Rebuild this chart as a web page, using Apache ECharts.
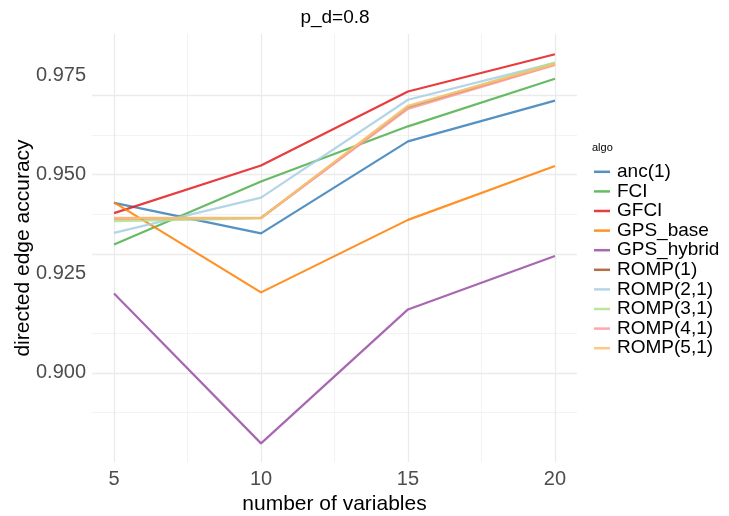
<!DOCTYPE html>
<html>
<head>
<meta charset="utf-8">
<script src="https://cdn.jsdelivr.net/npm/echarts@6/dist/echarts.min.js"></script>
<style>
  html, body { margin: 0; padding: 0; background: #ffffff; }
  #chart { width: 729px; height: 516px; }
</style>
</head>
<body>
<div id="chart"></div>
<script>
// Number of variables (x) and directed edge accuracy for each algorithm
const nVars = [5, 10, 15, 20];
const algos = ['anc(1)', 'FCI', 'GFCI', 'GPS_base', 'GPS_hybrid',
               'ROMP(1)', 'ROMP(2,1)', 'ROMP(3,1)', 'ROMP(4,1)', 'ROMP(5,1)'];
const anc1      = [0.9429, 0.9352, 0.9584, 0.9687];
const fci       = [0.9324, 0.9483, 0.9622, 0.9742];
const gfci      = [0.9403, 0.9523, 0.9710, 0.9804];
const gpsBase   = [0.9430, 0.9203, 0.9386, 0.9522];
const gpsHybrid = [0.9200, 0.8822, 0.9160, 0.9295];
const romp1     = [0.9390, 0.9391, 0.9670, 0.9778];
const romp21    = [0.9353, 0.9442, 0.9689, 0.9782];
const romp31    = [0.9383, 0.9390, 0.9672, 0.9783];
const romp41    = [0.9390, 0.9391, 0.9666, 0.9777];
const romp51    = [0.9391, 0.9391, 0.9674, 0.9779];
const xTicks = [5, 10, 15, 20];
const xMinor = [7.5, 12.5, 17.5];
const yTicks = [0.900, 0.925, 0.950, 0.975];
const yMinor = [0.8875, 0.9125, 0.9375, 0.9625];

const values = [anc1, fci, gfci, gpsBase, gpsHybrid, romp1, romp21, romp31, romp41, romp51];
const colors = ['#377EB8', '#4DAF4A', '#E41A1C', '#FF7F00', '#984EA3',
                '#A65628', '#A6CEE3', '#B2DF8A', '#FB9A99', '#FDBF6F'];

const FONT = '"Liberation Sans", Arial, sans-serif';

function isMultiple(v, step) {
  const q = v / step;
  return Math.abs(q - Math.round(q)) < 1e-6;
}

const lineSeries = algos.map((name, i) => ({
  name: name,
  type: 'line',
  data: nVars.map((x, j) => [x, values[i][j]]),
  symbol: 'none',
  lineStyle: { color: colors[i], width: 2.2, opacity: 0.85 },
  itemStyle: { color: colors[i], opacity: 0.85 },
  z: 3
}));

// Panel grid lines (major and minor), kept underneath the data lines
const gridSeries = {
  name: '__grid',
  type: 'line',
  data: [],
  silent: true,
  z: 1,
  markLine: {
    silent: true,
    z: 0,
    symbol: 'none',
    animation: false,
    label: { show: false },
    emphasis: { disabled: true },
    data: [
      ...xMinor.map(v => ({ xAxis: v, lineStyle: { color: '#F0F0F0', width: 0.8, type: 'solid' } })),
      ...yMinor.map(v => ({ yAxis: v, lineStyle: { color: '#F0F0F0', width: 0.8, type: 'solid' } })),
      ...xTicks.map(v => ({ xAxis: v, lineStyle: { color: '#EBEBEB', width: 1.3, type: 'solid' } })),
      ...yTicks.map(v => ({ yAxis: v, lineStyle: { color: '#EBEBEB', width: 1.3, type: 'solid' } }))
    ]
  }
};

const chart = echarts.init(document.getElementById('chart'), null, { renderer: 'canvas' });
chart.setOption({
  animation: false,
  backgroundColor: '#ffffff',
  textStyle: { fontFamily: FONT },
  title: [
    {
      text: 'p_d=0.8',
      left: 330, top: 3,
      textAlign: 'center',
      textStyle: { fontFamily: FONT, fontSize: 19, fontWeight: 'normal', color: '#000000' }
    },
    {
      text: 'algo',
      left: 587, top: 137,
      textStyle: { fontFamily: FONT, fontSize: 11, fontWeight: 'normal', color: '#000000' }
    }
  ],
  grid: { left: 92, right: 152, top: 34, bottom: 54, containLabel: false, outerBoundsMode: 'none' },
  xAxis: {
    type: 'value',
    min: 4.25, max: 20.75, interval: 0.25,
    name: 'number of variables',
    nameLocation: 'middle',
    nameGap: 28,
    nameTextStyle: { fontFamily: FONT, fontSize: 21, color: '#000000' },
    axisLine: { show: false },
    axisTick: { show: false },
    splitLine: { show: false },
    axisLabel: {
      interval: 0,
      margin: 7,
      fontFamily: FONT, fontSize: 20, color: '#4D4D4D',
      formatter: v => (isMultiple(v, 5) ? String(Math.round(v)) : '')
    }
  },
  yAxis: {
    type: 'value',
    min: 0.8775, max: 0.9855, interval: 0.0025,
    name: 'directed edge accuracy',
    nameLocation: 'middle',
    nameGap: 58,
    nameRotate: 90,
    nameMoveOverlap: false,
    nameTextStyle: { fontFamily: FONT, fontSize: 21, color: '#000000' },
    axisLine: { show: false },
    axisTick: { show: false },
    splitLine: { show: false },
    axisLabel: {
      interval: 0,
      margin: 6,
      fontFamily: FONT, fontSize: 20, color: '#4D4D4D',
      formatter: v => (isMultiple(v, 0.025) ? v.toFixed(3) : '')
    }
  },
  legend: {
    orient: 'vertical',
    left: 594, top: 162,
    padding: 0,
    data: algos.map((name, i) => ({
      name: name,
      icon: 'rect',
      itemStyle: { color: colors[i], opacity: 0.85 }
    })),
    itemWidth: 16, itemHeight: 2.5,
    itemGap: 0,
    selectedMode: false,
    textStyle: { fontFamily: FONT, fontSize: 19, color: '#000000', lineHeight: 19.6, padding: [0, 0, 0, 2] }
  },
  series: [gridSeries, ...lineSeries]
});
</script>
</body>
</html>
